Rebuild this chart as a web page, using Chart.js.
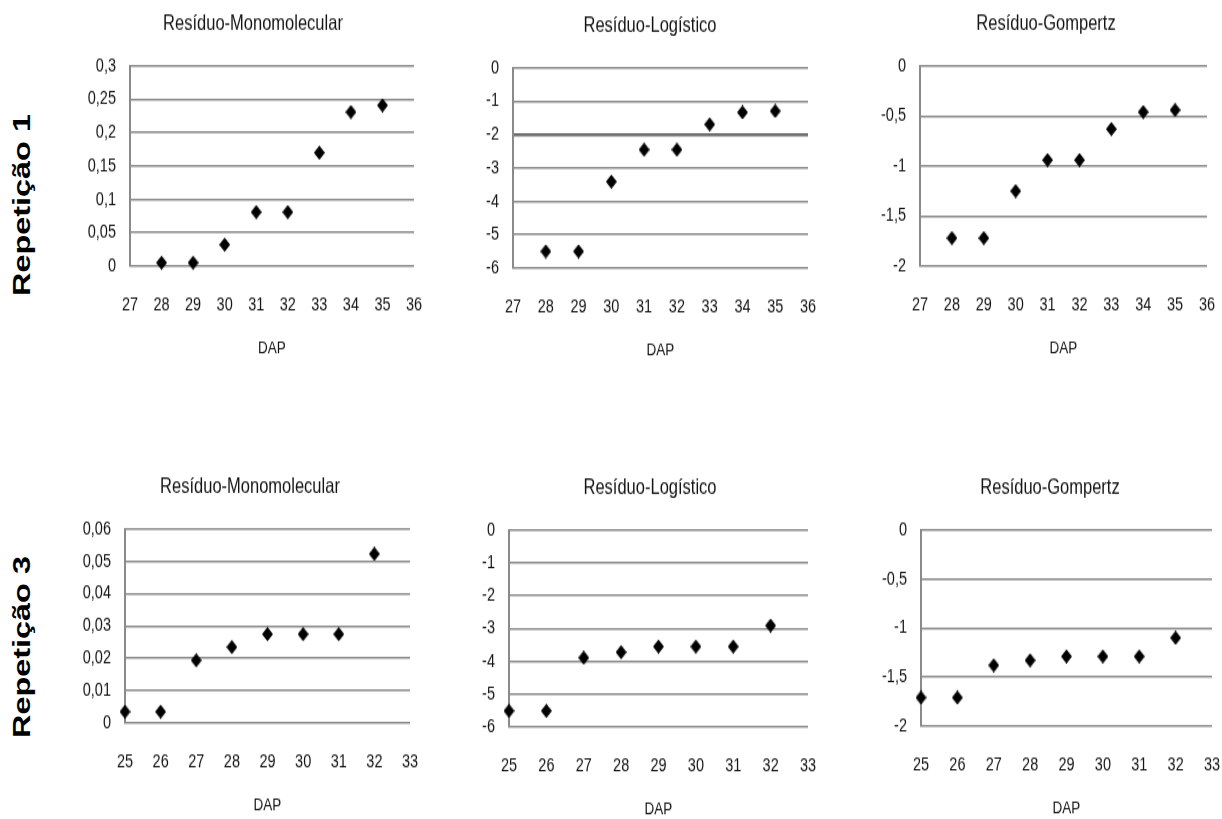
<!DOCTYPE html>
<html lang="pt">
<head>
<meta charset="utf-8">
<title>Resíduos</title>
<script src="https://cdn.jsdelivr.net/npm/chart.js@4.4.1/dist/chart.umd.min.js"></script>
<style>
  html, body { margin: 0; padding: 0; background: #fff; overflow: hidden; }
  #wrap { position: relative; width: 1222px; height: 819px; }
  #wrap canvas { position: absolute; }
  .rep {
    position: absolute;
    font-family: 'Liberation Sans', Arial, sans-serif;
    font-weight: bold;
    font-size: 24px;
    color: #000;
    white-space: nowrap;
    transform: translate(-50%, -50%) rotate(-90deg) scaleX(1.35);
  }
</style>
</head>
<body>
<div id="wrap">
  <div class="rep" style="left:22px; top:205px;">Repetição 1</div>
  <div class="rep" style="left:22px; top:647px;">Repetição 3</div>
</div>
<script>
// ══════════════════════════════
//  DADOS
// ══════════════════════════════
const dapRep1 = [28, 29, 30, 31, 32, 33, 34, 35];
const dapRep3 = [25, 26, 27, 28, 29, 30, 31, 32];

const monoRep1 = [0.005, 0.005, 0.032, 0.081, 0.081, 0.170, 0.231, 0.241];
const logRep1  = [-5.50, -5.50, -3.41, -2.45, -2.45, -1.69, -1.33, -1.29];
const gompRep1 = [-1.72, -1.72, -1.25, -0.94, -0.94, -0.63, -0.46, -0.44];

const monoRep3 = [0.0035, 0.0035, 0.0194, 0.0235, 0.0275, 0.0275, 0.0275, 0.0523];
const logRep3  = [-5.51, -5.51, -3.89, -3.72, -3.55, -3.55, -3.55, -2.91];
const gompRep3 = [-1.71, -1.71, -1.38, -1.33, -1.29, -1.29, -1.29, -1.10];

const titulos = ['Resíduo-Monomolecular', 'Resíduo-Logístico', 'Resíduo-Gompertz'];
const tituloX = 'DAP';

// ticks
const xTicksRep1 = [27, 28, 29, 30, 31, 32, 33, 34, 35, 36];
const xTicksRep3 = [25, 26, 27, 28, 29, 30, 31, 32, 33];

const yTicksMono1  = [0, 0.05, 0.1, 0.15, 0.2, 0.25, 0.3];
const yLabelsMono1 = ['0', '0,05', '0,1', '0,15', '0,2', '0,25', '0,3'];
const yTicksMono3  = [0, 0.01, 0.02, 0.03, 0.04, 0.05, 0.06];
const yLabelsMono3 = ['0', '0,01', '0,02', '0,03', '0,04', '0,05', '0,06'];
const yTicksLog    = [-6, -5, -4, -3, -2, -1, 0];
const yLabelsLog   = ['-6', '-5', '-4', '-3', '-2', '-1', '0'];
const yTicksGomp   = [-2, -1.5, -1, -0.5, 0];
const yLabelsGomp  = ['-2', '-1,5', '-1', '-0,5', '0'];


// ══════════════════════════════
//  ESTILO / LAYOUT
// ══════════════════════════════
const FONT = "'Liberation Sans', Arial, sans-serif";
const TXT = '#141414';
const GRID = '#8a8a8a';
const K = 1.3;      // a figura original está esticada na vertical
const PAD_L = 90;   // espaço dos rótulos do eixo y (px na tela)
const PAD_T = 66;   // espaço do título
const PAD_B = 95;   // espaço dos rótulos do eixo x + DAP

// marcador losango
const diamond = document.createElement('canvas');
diamond.width = 11;
diamond.height = 11;
const dctx = diamond.getContext('2d');
dctx.beginPath();
dctx.moveTo(5.5, 0);
dctx.lineTo(11, 5.5);
dctx.lineTo(5.5, 11);
dctx.lineTo(0, 5.5);
dctx.closePath();
dctx.fillStyle = '#000';
dctx.fill();

const wrap = document.getElementById('wrap');

function makeChart(c) {
  const left = c.L - PAD_L;
  const w = Math.round(2 * (c.tx - left));
  const extraRight = w - PAD_L - (c.R - c.L);
  const h = PAD_T + (c.B - c.T) + PAD_B;
  const hc = Math.round(h / K);
  const k = h / hc;

  const cv = document.createElement('canvas');
  cv.width = w;
  cv.height = hc;
  cv.style.left = left + 'px';
  cv.style.top = (c.T - PAD_T) + 'px';
  cv.style.width = w + 'px';
  cv.style.height = h + 'px';
  wrap.appendChild(cv);

  const titleH = PAD_T / k;
  const titleFont = 16.5;
  const titleTop = (PAD_T - 42) / k - titleFont * 1.2 / 2;

  new Chart(cv, {
    type: 'scatter',
    data: {
      datasets: [{
        data: c.x.map((v, i) => ({ x: v, y: c.y[i] })),
        pointStyle: diamond,
        pointRadius: 6,
        clip: false,
      }],
    },
    options: {
      responsive: false,
      animation: false,
      devicePixelRatio: 1,
      layout: { padding: 0 },
      plugins: {
        legend: { display: false },
        tooltip: { enabled: false },
        title: {
          display: true,
          text: c.title,
          color: TXT,
          font: { family: FONT, size: titleFont, weight: 'normal', lineHeight: 1.2 },
          padding: { top: titleTop, bottom: titleH - titleTop - titleFont * 1.2 },
        },
      },
      scales: {
        x: {
          type: 'linear',
          min: c.xt[0],
          max: c.xt[c.xt.length - 1],
          grid: { display: false, drawTicks: false },
          border: { display: false },
          afterBuildTicks: (axis) => { axis.ticks = c.xt.map(v => ({ value: v })); },
          ticks: {
            color: TXT,
            font: { family: FONT, size: 14.5 },
            padding: 21,
            autoSkip: false,
            maxRotation: 0,
            callback: (v) => String(v),
          },
          title: {
            display: true,
            text: tituloX,
            color: TXT,
            font: { family: FONT, size: 13.5, lineHeight: 1.2 },
            padding: { top: 0, bottom: 2 },
          },
          afterFit: (axis) => {
            axis.height = PAD_B / k;
            axis.paddingLeft = 0;
            axis.paddingRight = extraRight;
          },
        },
        y: {
          min: c.yt[0],
          max: c.yt[c.yt.length - 1],
          afterBuildTicks: (axis) => { axis.ticks = c.yt.map(v => ({ value: v })); },
          ticks: {
            color: TXT,
            font: { family: FONT, size: 14.5 },
            padding: 14,
            callback: (v, i) => c.yl[i],
          },
          grid: {
            drawTicks: false,
            color: (ctx) => (c.strong !== undefined && ctx.tick && ctx.tick.value === c.strong) ? '#6e6e6e' : GRID,
            lineWidth: (ctx) => (c.strong !== undefined && ctx.tick && ctx.tick.value === c.strong) ? 2.5 : 1.5,
          },
          border: { display: true, color: GRID, width: 2 },
          afterFit: (axis) => {
            axis.width = PAD_L;
            axis.paddingTop = 0;
            axis.paddingBottom = 0;
          },
        },
      },
    },
  });
}


// ══════════════════════════════
//  GRÁFICOS
// ══════════════════════════════
// Repetição 1
makeChart({ L: 130, R: 414, T: 66, B: 266, tx: 253, title: titulos[0],
  x: dapRep1, y: monoRep1, xt: xTicksRep1, yt: yTicksMono1, yl: yLabelsMono1 });
makeChart({ L: 513, R: 808, T: 68, B: 268, tx: 650, title: titulos[1],
  x: dapRep1, y: logRep1, xt: xTicksRep1, yt: yTicksLog, yl: yLabelsLog, strong: -2 });
makeChart({ L: 920, R: 1207, T: 66, B: 266, tx: 1046, title: titulos[2],
  x: dapRep1, y: gompRep1, xt: xTicksRep1, yt: yTicksGomp, yl: yLabelsGomp });

// Repetição 3
makeChart({ L: 125, R: 410, T: 529, B: 723, tx: 250, title: titulos[0],
  x: dapRep3, y: monoRep3, xt: xTicksRep3, yt: yTicksMono3, yl: yLabelsMono3 });
makeChart({ L: 509, R: 808, T: 530, B: 727, tx: 650, title: titulos[1],
  x: dapRep3, y: logRep3, xt: xTicksRep3, yt: yTicksLog, yl: yLabelsLog });
makeChart({ L: 921, R: 1212, T: 530, B: 726, tx: 1050, title: titulos[2],
  x: dapRep3, y: gompRep3, xt: xTicksRep3, yt: yTicksGomp, yl: yLabelsGomp });
</script>
</body>
</html>
